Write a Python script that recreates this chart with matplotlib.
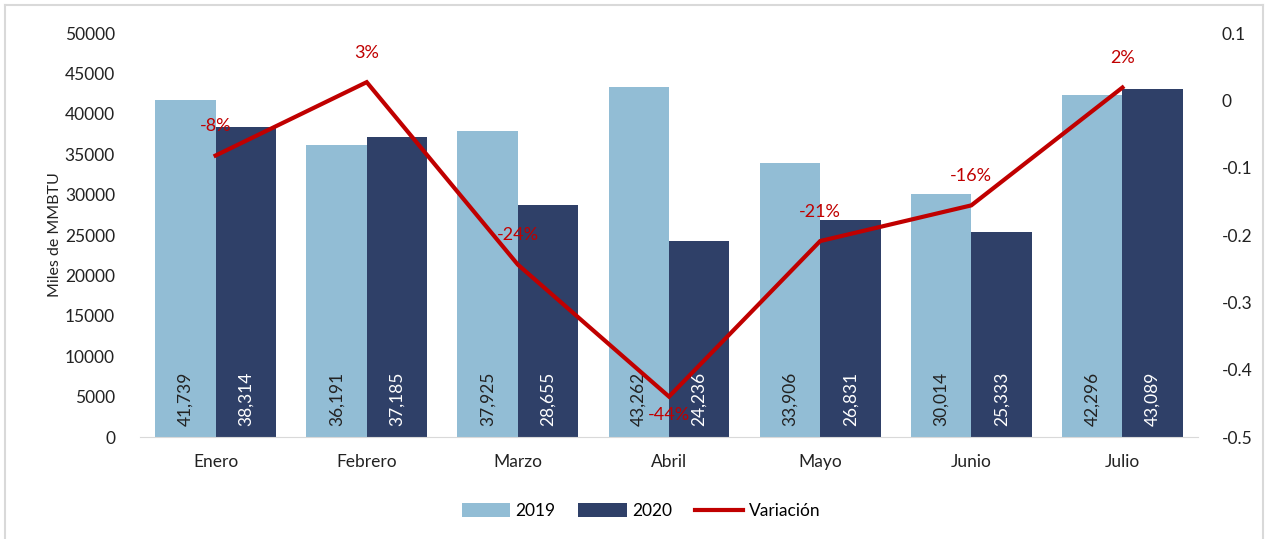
import matplotlib.pyplot as plt
import numpy as np
from matplotlib.lines import Line2D

months = ["Enero", "Febrero", "Marzo", "Abril", "Mayo", "Junio", "Julio"]
v2019 = [41739, 36191, 37925, 43262, 33906, 30014, 42296]
v2020 = [38314, 37185, 28655, 24236, 26831, 25333, 43089]
variacion = [-0.082, 0.027, -0.244, -0.440, -0.209, -0.156, 0.019]
var_labels = ["-8%", "3%", "-24%", "-44%", "-21%", "-16%", "2%"]

c2019 = "#92BDD5"
c2020 = "#2F4068"
cred = "#C00000"

plt.rcParams["font.family"] = ["Lato", "DejaVu Sans"]

fig = plt.figure(figsize=(12.69, 5.39), dpi=100)
ax = fig.add_axes([140 / 1269, 1 - 437 / 539, 1058 / 1269, 404 / 539])
ax2 = ax.twinx()

x = np.arange(len(months))
w = 0.4
b1 = ax.bar(x - w / 2, v2019, w, color=c2019, label="2019")
b2 = ax.bar(x + w / 2, v2020, w, color=c2020, label="2020")

for xi, v in zip(x, v2019):
    ax.text(xi - w / 2, 1300, f"{v:,}", rotation=90, ha="center", va="bottom",
            fontsize=12.5, color="#222222")
for xi, v in zip(x, v2020):
    ax.text(xi + w / 2, 1300, f"{v:,}", rotation=90, ha="center", va="bottom",
            fontsize=12.5, color="white")

ax.set_xlim(-0.5, len(months) - 0.5)
ax.set_ylim(0, 50000)
ax.set_yticks(range(0, 50001, 5000))
ax.set_xticks(x)
ax.set_xticklabels(months)
ax.set_ylabel("Miles de MMBTU", fontsize=11.5, color="#222222", labelpad=2)
ax.tick_params(axis="both", length=0, labelsize=12.5, colors="#222222")
ax.tick_params(axis="y", pad=18)
ax.tick_params(axis="x", pad=12)
for s in ["top", "left", "right"]:
    ax.spines[s].set_visible(False)
ax.spines["bottom"].set_color("#D9D9D9")

ax2.plot(x, variacion, color=cred, linewidth=3, solid_joinstyle="miter")
ax2.set_ylim(-0.5, 0.1)
ax2.set_yticks([0.1, 0, -0.1, -0.2, -0.3, -0.4, -0.5])
ax2.set_yticklabels(["0.1", "0", "-0.1", "-0.2", "-0.3", "-0.4", "-0.5"])
ax2.tick_params(axis="y", length=0, labelsize=12.5, colors="#222222", pad=17)
for s in ax2.spines.values():
    s.set_visible(False)

for xi, v, lab in zip(x, variacion, var_labels):
    if lab == "-44%":
        ax2.annotate(lab, (xi, v), xytext=(0, -13), textcoords="offset points",
                     ha="center", va="center", fontsize=13, color=cred)
    else:
        ax2.annotate(lab, (xi, v), xytext=(0, 21), textcoords="offset points",
                     ha="center", va="center", fontsize=13, color=cred)

handles = [b1, b2, Line2D([0], [0], color=cred, linewidth=3)]
fig.legend(handles, ["2019", "2020", "Variación"], loc="center",
           bbox_to_anchor=(641 / 1269, 1 - 511 / 539), ncol=3, frameon=False,
           fontsize=12.5, handlelength=2.8, handleheight=0.8, columnspacing=1.3,
           handletextpad=0.3)

# chart frame
fig.add_artist(Line2D([5 / 1269, 5 / 1269], [0, 1 - 5 / 539], color="#D9D9D9", lw=1.5))
fig.add_artist(Line2D([1263 / 1269, 1263 / 1269], [0, 1 - 5 / 539], color="#D9D9D9", lw=1.5))
fig.add_artist(Line2D([5 / 1269, 1263 / 1269], [1 - 5 / 539, 1 - 5 / 539], color="#D9D9D9", lw=1.5))

fig.savefig("out.png", dpi=100)
